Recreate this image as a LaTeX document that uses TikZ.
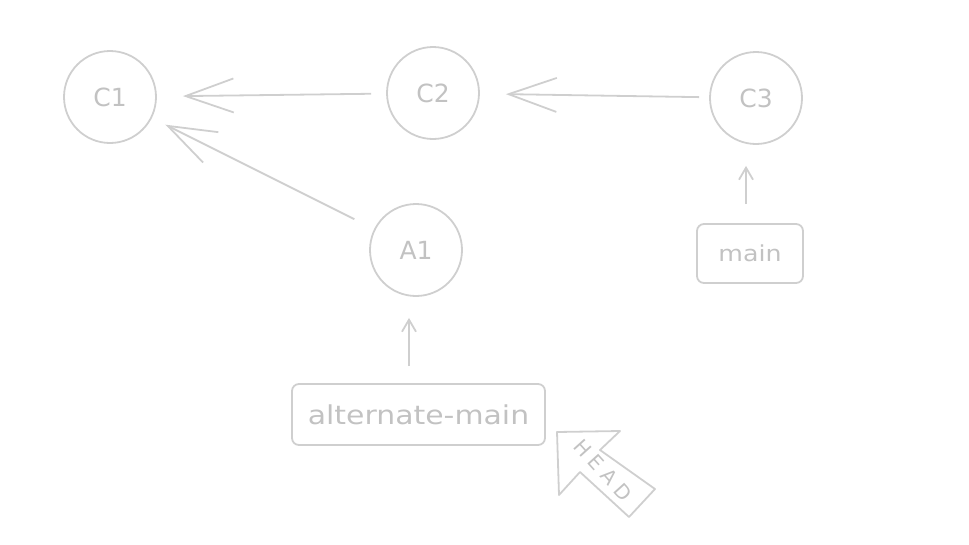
\documentclass[tikz,border=0pt]{standalone}
\usepackage{fontspec}
\usetikzlibrary{arrows.meta}
\newfontfamily\hand[FakeStretch=1.15]{DejaVu Sans}
\newfontfamily\handc{DejaVu Sans}
\newfontfamily\headf[LetterSpace=30]{DejaVu Sans}
\definecolor{sk}{HTML}{CFCFCF}
\definecolor{tx}{HTML}{C2C2C2}
\begin{document}
\begin{tikzpicture}[x=1pt,y=-1pt,
  commit/.style={circle, draw=sk, line width=1.8pt, minimum size=92pt, inner sep=0pt,
    text=tx, font=\handc\fontsize{25}{29}\selectfont},
  branch/.style={draw=sk, line width=1.8pt, rounded corners=7pt, inner sep=0pt,
    text=tx, font=\hand\fontsize{26}{30}\selectfont},
  biglink/.style={draw=sk, line width=1.8pt,
    -{Straight Barb[length=48pt,width=34pt,line width=1.8pt]}},
  smalllink/.style={draw=sk, line width=1.8pt,
    -{Straight Barb[length=12pt,width=14pt,line width=1.8pt]}}]
\useasboundingbox (0,0) rectangle (969,544);

\node[commit] (c1) at (110,97) {C1};
\node[commit] (c2) at (433,93) {C2};
\node[commit] (c3) at (756,98) {C3};
\node[commit] (a1) at (416,250) {A1};
\node[branch, minimum width=106pt, minimum height=59pt, font=\hand\fontsize{22}{26}\selectfont] (main) at (750,253.5) {main};
\node[branch, minimum width=253pt, minimum height=61pt] (alt) at (418.5,414.5) {alternate-main};

\draw[biglink, shorten <=15pt, shorten >=26pt] (c2) -- (c1);
\draw[biglink, shorten <=10pt, shorten >=26pt] (c3) -- (c2);
\draw[biglink, shorten <=22pt, shorten >=15pt] (a1) -- (c1);
\draw[smalllink, shorten <=19pt, shorten >=21pt] (main.north -| 746,0) -- (c3.south -| 746,0);
\draw[smalllink, shorten <=17pt, shorten >=21pt] (alt.north -| 409,0) -- (a1.south -| 409,0);

% HEAD block arrow
\draw[sk, line width=1.8pt, line join=round]
  (557,432) -- (620,431) -- (600,450) -- (655,489) -- (629,517) -- (580,472) -- (559,495) -- cycle;
\node[text=tx, rotate=-48, font=\headf\fontsize{20}{23}\selectfont] (head) at (603,470) {HEAD};
\end{tikzpicture}
\end{document}
